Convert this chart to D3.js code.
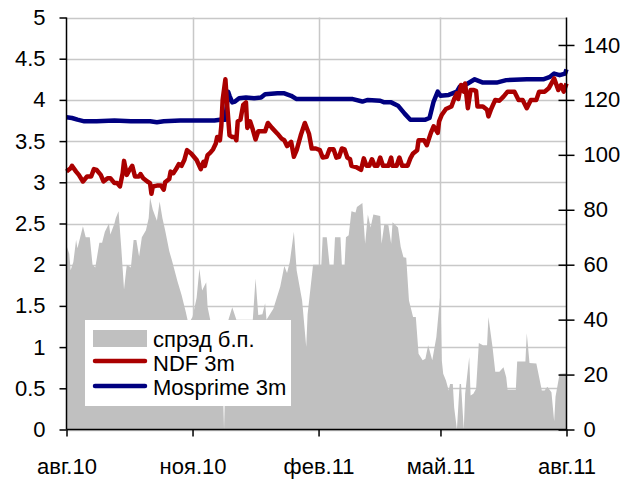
<!DOCTYPE html>
<html>
<head>
<meta charset="utf-8">
<script src="https://cdn.jsdelivr.net/npm/d3@7"></script>
<style>
  body { margin: 0; background: #fff; }
  svg text { font-family: "Liberation Sans", Arial, sans-serif; font-size: 22px; fill: #000; }
</style>
</head>
<body>
<div id="chart"></div>
<script>
// spread, b.p. (right axis)
var spreadDates = ["2010-08-01","2010-08-03","2010-08-04","2010-08-06","2010-08-08","2010-08-09","2010-08-11","2010-08-13","2010-08-15","2010-08-18","2010-08-20","2010-08-22","2010-08-25","2010-08-27","2010-08-29","2010-09-01","2010-09-02","2010-09-05","2010-09-06","2010-09-08","2010-09-10","2010-09-12","2010-09-14","2010-09-17","2010-09-19","2010-09-21","2010-09-23","2010-09-25","2010-09-28","2010-09-30","2010-10-01","2010-10-03","2010-10-06","2010-10-08","2010-10-10","2010-10-12","2010-10-15","2010-10-17","2010-10-21","2010-10-24","2010-10-27","2010-10-29","2010-11-01","2010-11-04","2010-11-06","2010-11-08","2010-11-11","2010-11-12","2010-11-14","2010-11-17","2010-11-21","2010-11-22","2010-11-24","2010-11-26","2010-11-30","2010-12-03","2010-12-15","2010-12-17","2010-12-19","2010-12-22","2010-12-24","2010-12-25","2010-12-30","2011-01-04","2011-01-07","2011-01-09","2011-01-11","2011-01-14","2011-01-16","2011-01-20","2011-01-23","2011-01-24","2011-01-28","2011-01-30","2011-02-03","2011-02-04","2011-02-07","2011-02-09","2011-02-12","2011-02-13","2011-02-17","2011-02-18","2011-02-20","2011-02-21","2011-02-23","2011-02-25","2011-02-28","2011-03-01","2011-03-05","2011-03-07","2011-03-09","2011-03-11","2011-03-13","2011-03-18","2011-03-19","2011-03-21","2011-03-24","2011-03-26","2011-03-27","2011-03-31","2011-04-02","2011-04-04","2011-04-06","2011-04-08","2011-04-11","2011-04-13","2011-04-15","2011-04-18","2011-04-20","2011-04-22","2011-04-25","2011-04-28","2011-05-01","2011-05-02","2011-05-03","2011-05-05","2011-05-07","2011-05-08","2011-05-10","2011-05-11","2011-05-13","2011-05-15","2011-05-16","2011-05-18","2011-05-19","2011-05-22","2011-05-23","2011-05-25","2011-05-27","2011-05-29","2011-06-01","2011-06-04","2011-06-05","2011-06-08","2011-06-10","2011-06-13","2011-06-16","2011-06-18","2011-06-19","2011-06-25","2011-06-26","2011-07-02","2011-07-03","2011-07-05","2011-07-10","2011-07-14","2011-07-16","2011-07-18","2011-07-21","2011-07-23","2011-07-24","2011-07-27","2011-08-01"];
var spreadValues = [67,64,58,61,69,66,70,74,70,70,60,59,68,68,72,75,71,75,77,79.5,66,51,60,59,69,69,63,70,72.5,77,84.5,80,76,83,77,72.5,65,61.5,54,49,43,38.5,41,48,58.5,50.6,53.6,44.6,39.7,38,40,36,0,38,44.5,40,40,55,41.7,42,46,40,44,52,59.5,57,61,72,58,47,30,42,60,60,60,70,70,60,60,70,70,60,60,70,70.7,79.5,79,81,82.5,67.6,78.3,73.5,78.3,77.7,67.6,74.7,74.4,67.6,75.5,73.5,66.4,62.7,62.5,47,41,41,27.6,25.2,25.8,30.7,25.2,33.7,50,25,20.3,17.8,14.2,16.6,16.6,8,0,16.6,16.6,0,13,26.4,12.4,13,14.8,31.5,30.7,30.7,41,30,21,21,22.7,19,14.5,14.5,24.8,24.8,35,24.2,24,14.2,14.2,15.6,13.6,3,12,20.3,20.5];

// NDF 3m, % (left axis)
var ndfDates = ["2010-08-01","2010-08-04","2010-08-05","2010-08-08","2010-08-10","2010-08-13","2010-08-16","2010-08-19","2010-08-21","2010-08-23","2010-08-26","2010-08-28","2010-08-31","2010-09-02","2010-09-05","2010-09-07","2010-09-09","2010-09-11","2010-09-12","2010-09-14","2010-09-16","2010-09-18","2010-09-20","2010-09-23","2010-09-24","2010-09-26","2010-09-29","2010-10-01","2010-10-02","2010-10-03","2010-10-06","2010-10-09","2010-10-11","2010-10-12","2010-10-15","2010-10-16","2010-10-18","2010-10-20","2010-10-22","2010-10-24","2010-10-26","2010-10-28","2010-10-31","2010-11-02","2010-11-04","2010-11-07","2010-11-09","2010-11-10","2010-11-12","2010-11-14","2010-11-16","2010-11-18","2010-11-19","2010-11-21","2010-11-22","2010-11-23","2010-11-25","2010-11-26","2010-11-28","2010-11-30","2010-12-02","2010-12-03","2010-12-04","2010-12-06","2010-12-08","2010-12-10","2010-12-11","2010-12-13","2010-12-15","2010-12-17","2010-12-19","2010-12-22","2010-12-24","2010-12-26","2010-12-29","2011-01-02","2011-01-05","2011-01-07","2011-01-09","2011-01-12","2011-01-14","2011-01-16","2011-01-19","2011-01-22","2011-01-25","2011-01-27","2011-01-30","2011-02-02","2011-02-04","2011-02-07","2011-02-09","2011-02-12","2011-02-14","2011-02-16","2011-02-18","2011-02-20","2011-02-22","2011-02-24","2011-02-25","2011-03-01","2011-03-04","2011-03-06","2011-03-08","2011-03-10","2011-03-12","2011-03-14","2011-03-16","2011-03-18","2011-03-20","2011-03-24","2011-03-26","2011-03-27","2011-03-30","2011-04-01","2011-04-03","2011-04-07","2011-04-09","2011-04-11","2011-04-14","2011-04-15","2011-04-19","2011-04-21","2011-04-24","2011-04-26","2011-04-29","2011-04-30","2011-05-02","2011-05-05","2011-05-09","2011-05-11","2011-05-13","2011-05-14","2011-05-16","2011-05-18","2011-05-19","2011-05-21","2011-05-23","2011-05-25","2011-05-27","2011-05-28","2011-06-01","2011-06-04","2011-06-05","2011-06-07","2011-06-10","2011-06-13","2011-06-16","2011-06-19","2011-06-24","2011-06-27","2011-06-30","2011-07-03","2011-07-06","2011-07-10","2011-07-12","2011-07-16","2011-07-19","2011-07-23","2011-07-26","2011-07-28","2011-07-30","2011-08-01"];
var ndfValues = [3.13,3.17,3.2,3.13,3.09,3.01,3.07,3.07,3.16,3.15,3.09,3.01,3.05,3.05,2.99,2.99,2.95,3.11,3.26,3.09,3.15,3.2,3.07,3.07,3.1,3.05,3.01,2.99,2.86,2.95,2.96,2.96,2.91,3.0,3.04,3.13,3.11,3.16,3.22,3.2,3.27,3.39,3.35,3.31,3.27,3.16,3.25,3.2,3.33,3.36,3.4,3.47,3.55,3.51,3.68,4.0,4.25,4.0,3.57,3.55,3.55,3.51,3.74,3.76,3.94,3.97,3.66,3.74,3.64,3.52,3.62,3.62,3.62,3.72,3.66,3.59,3.53,3.51,3.44,3.49,3.31,3.39,3.57,3.72,3.59,3.41,3.41,3.39,3.3,3.31,3.4,3.4,3.3,3.31,3.41,3.4,3.3,3.28,3.2,3.18,3.15,3.29,3.2,3.2,3.28,3.2,3.2,3.3,3.2,3.2,3.3,3.2,3.2,3.3,3.2,3.2,3.29,3.35,3.39,3.51,3.51,3.45,3.6,3.68,3.6,3.74,3.82,3.89,3.92,4.01,4.08,4.01,4.18,4.1,4.2,3.9,4.12,4.12,4.11,3.92,3.92,3.88,3.8,3.89,4.0,3.99,4.04,4.1,4.1,4.0,4.0,3.9,4.0,4.0,4.1,4.1,4.14,4.26,4.12,4.18,4.1,4.2];

// Mosprime 3m, % (left axis)
var mosDates = ["2010-08-01","2010-08-05","2010-08-09","2010-08-14","2010-08-23","2010-09-05","2010-09-17","2010-10-01","2010-10-06","2010-10-11","2010-10-23","2010-11-04","2010-11-17","2010-11-21","2010-11-25","2010-11-27","2010-11-28","2010-11-30","2010-12-02","2010-12-05","2010-12-10","2010-12-16","2010-12-21","2010-12-24","2011-01-02","2011-01-07","2011-01-12","2011-01-16","2011-01-28","2011-02-19","2011-02-26","2011-03-05","2011-03-09","2011-03-18","2011-03-21","2011-03-26","2011-03-31","2011-04-05","2011-04-09","2011-04-13","2011-04-20","2011-04-23","2011-04-26","2011-04-29","2011-05-01","2011-05-07","2011-05-13","2011-05-15","2011-05-20","2011-05-26","2011-06-01","2011-06-11","2011-06-18","2011-07-03","2011-07-15","2011-07-20","2011-07-23","2011-07-27","2011-07-31","2011-08-01"];
var mosValues = [3.79,3.78,3.76,3.74,3.74,3.75,3.74,3.74,3.73,3.74,3.75,3.75,3.75,3.76,3.76,4.1,4.05,3.97,3.98,4.02,4.03,4.02,4.03,4.07,4.08,4.08,4.05,4.01,4.01,4.01,4.01,3.98,4.0,3.99,3.97,3.97,3.93,3.83,3.76,3.76,3.76,3.78,3.98,4.1,4.05,4.06,4.1,4.16,4.19,4.25,4.21,4.21,4.24,4.25,4.25,4.28,4.32,4.3,4.32,4.37];

var xTicks = ["2010-08-01","2010-11-01","2011-02-01","2011-05-01","2011-08-01"];
var xTickLabels = ["авг.10","ноя.10","фев.11","май.11","авг.11"];
var leftTicks = [0,0.5,1,1.5,2,2.5,3,3.5,4,4.5,5];
var rightTicks = [0,20,40,60,80,100,120,140];
var legendNames = ["спрэд б.п.","NDF 3m","Mosprime 3m"];

var width = 639, height = 487;
var plot = { left: 66.5, right: 566.5, top: 17.5, bottom: 429.5 };
var parse = d3.timeParse("%Y-%m-%d");

var svg = d3.select("#chart").append("svg")
    .attr("width", width)
    .attr("height", height);

var x = d3.scaleTime()
    .domain([parse("2010-08-01"), parse("2011-08-01")])
    .range([plot.left, plot.right]);
var yL = d3.scaleLinear().domain([0, 5]).range([plot.bottom, plot.top]);
var yR = d3.scaleLinear().domain([0, 150]).range([plot.bottom, plot.top]);

function zip(dates, vals) {
    return dates.map(function(d, i) { return { date: parse(d), v: vals[i] }; });
}
var spread = zip(spreadDates, spreadValues);
var ndf = zip(ndfDates, ndfValues);
var mos = zip(mosDates, mosValues);

// grid
svg.append("g").selectAll("line")
    .data(leftTicks)
    .enter().append("line")
    .attr("x1", plot.left).attr("x2", plot.right)
    .attr("y1", function(d) { return Math.round(yL(d)) + 0.5; })
    .attr("y2", function(d) { return Math.round(yL(d)) + 0.5; })
    .attr("stroke", "#c8c8c8")
    .attr("stroke-width", 1.5);
svg.append("g").selectAll("line")
    .data(xTicks.slice(1, -1))
    .enter().append("line")
    .attr("x1", function(d) { return Math.round(x(parse(d))) + 0.5; })
    .attr("x2", function(d) { return Math.round(x(parse(d))) + 0.5; })
    .attr("y1", plot.top).attr("y2", plot.bottom)
    .attr("stroke", "#c8c8c8")
    .attr("stroke-width", 1.5);

// spread area
svg.append("path")
    .datum(spread)
    .attr("fill", "#c0c0c0")
    .attr("d", d3.area()
        .x(function(d) { return x(d.date); })
        .y0(yR(0))
        .y1(function(d) { return yR(d.v); }));

var line = d3.line()
    .x(function(d) { return x(d.date); })
    .y(function(d) { return yL(d.v); });

svg.append("path")
    .datum(mos)
    .attr("fill", "none")
    .attr("stroke", "#000080")
    .attr("stroke-width", 4.5)
    .attr("stroke-linejoin", "round")
    .attr("d", line);

svg.append("path")
    .datum(ndf)
    .attr("fill", "none")
    .attr("stroke", "#aa0000")
    .attr("stroke-width", 4.5)
    .attr("stroke-linejoin", "round")
    .attr("d", line);

// axes
var axL = svg.append("g")
    .attr("transform", "translate(" + plot.left + ",0)")
    .call(d3.axisLeft(yL).tickValues(leftTicks).tickSize(7).tickPadding(14)
        .tickFormat(function(d) { return String(d); }));
var axR = svg.append("g")
    .attr("transform", "translate(" + plot.right + ",0)")
    .call(d3.axisRight(yR).tickValues(rightTicks).tickSize(8).tickPadding(9));
axR.selectAll(".tick line").attr("x1", -8);
var axB = svg.append("g")
    .attr("transform", "translate(0," + plot.bottom + ")")
    .call(d3.axisBottom(x).tickValues(xTicks.map(parse)).tickSize(7).tickPadding(22)
        .tickFormat(function(d, i) { return xTickLabels[i]; }));

[axL, axR, axB].forEach(function(a) {
    a.selectAll("path").attr("stroke", "#000").attr("stroke-width", 1.5);
    a.selectAll("line").attr("stroke", "#000").attr("stroke-width", 1.5);
    a.selectAll("text").attr("font-size", 22).attr("font-family", "Liberation Sans, Arial, sans-serif");
});
axL.select(".domain").attr("d", "M0," + plot.top + "V" + plot.bottom);
axR.select(".domain").attr("d", "M0," + plot.top + "V" + plot.bottom);
axB.select(".domain").attr("d", "M" + plot.left + ",0H" + plot.right);

// legend
var lg = svg.append("g").attr("transform", "translate(85,320)");
lg.append("rect").attr("width", 206).attr("height", 86).attr("fill", "#fff");
lg.append("rect").attr("x", 8).attr("y", 10).attr("width", 54).attr("height", 17).attr("fill", "#c0c0c0");
lg.append("line").attr("x1", 10).attr("x2", 60).attr("y1", 41).attr("y2", 41)
    .attr("stroke", "#aa0000").attr("stroke-width", 4.5).attr("stroke-linecap", "round");
lg.append("line").attr("x1", 10).attr("x2", 60).attr("y1", 66).attr("y2", 66)
    .attr("stroke", "#000080").attr("stroke-width", 4.5).attr("stroke-linecap", "round");
lg.selectAll("text.lbl")
    .data(legendNames)
    .enter().append("text")
    .attr("class", "lbl")
    .attr("x", 68)
    .attr("y", function(d, i) { return 19 + i * 24; })
    .attr("dy", "0.35em")
    .attr("font-size", 22)
    .text(function(d) { return d; });
</script>
</body>
</html>
